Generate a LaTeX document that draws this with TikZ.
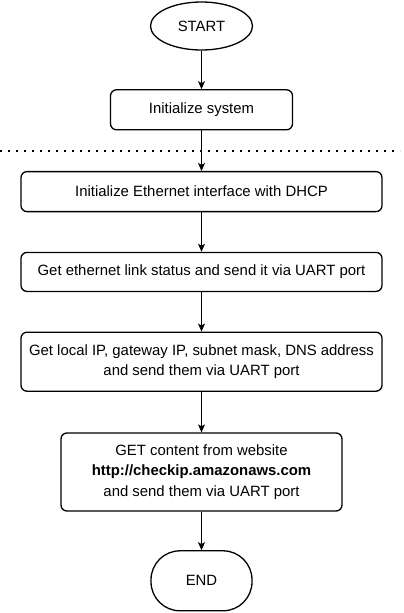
\documentclass[tikz,border=0pt]{standalone}
\usepackage{fontspec}
\setmainfont{Liberation Sans}
\usetikzlibrary{arrows.meta,positioning,shapes.geometric}
\tikzset{
  block/.style={
    draw,
    line width=1.3pt,
    rounded corners=6pt,
    align=center,
    minimum width=361pt,
    minimum height=40pt
  },
  line/.style={
    -{Stealth[length=8pt,width=7pt,inset=2pt]},
    line width=0.8pt
  },
  terminator/.style={
    draw,
    line width=1.3pt,
    align=center,
    minimum width=101pt,
    minimum height=60pt,
    rounded corners=29pt
  }
}

\begin{document}
\begin{tikzpicture}[x=1pt, y=1pt, font=\fontsize{14.9}{20.5}\selectfont, node distance=39.5pt]
  \useasboundingbox (0,0) rectangle (404,-613);

  \node[draw, ellipse, line width=1.3pt, minimum width=102pt, minimum height=48pt] (start) at (201.5,-26) {START};
  \node[block, below=38.5pt of start, minimum width=182pt] (init) {Initialize system};
  \node[block, below=40.5pt of init] (eth) {Initialize Ethernet interface with DHCP};
  \node[block, below=of eth, minimum height=39pt] (link) {Get ethernet link status and send it via UART port};
  \node[block, below=of link, minimum height=59pt] (ip) {Get local IP, gateway IP, subnet mask, DNS address\\
    and send them via UART port};
  \node[block, below=40.5pt of ip, minimum width=281pt, minimum height=78pt] (web) {GET content from website\\
    \textbf{http://checkip.amazonaws.com}\\
    and send them via UART port};
  \node[terminator, below=38.5pt of web] (end) {END};

  % separator between setup and network part
  \coordinate (sepL) at (0,-151);
  \coordinate (sepR) at (400,-151);
  \draw[line width=1.6pt, dash pattern=on 1.6pt off 6.4pt] (sepL) -- (sepR);

  \draw[line] (start) -- (init);
  \draw[line] (init) -- (eth);
  \draw[line] (eth) -- (link);
  \draw[line] (link) -- (ip);
  \draw[line] (ip) -- (web);
  \draw[line] (web) -- (end);
\end{tikzpicture}
\end{document}
